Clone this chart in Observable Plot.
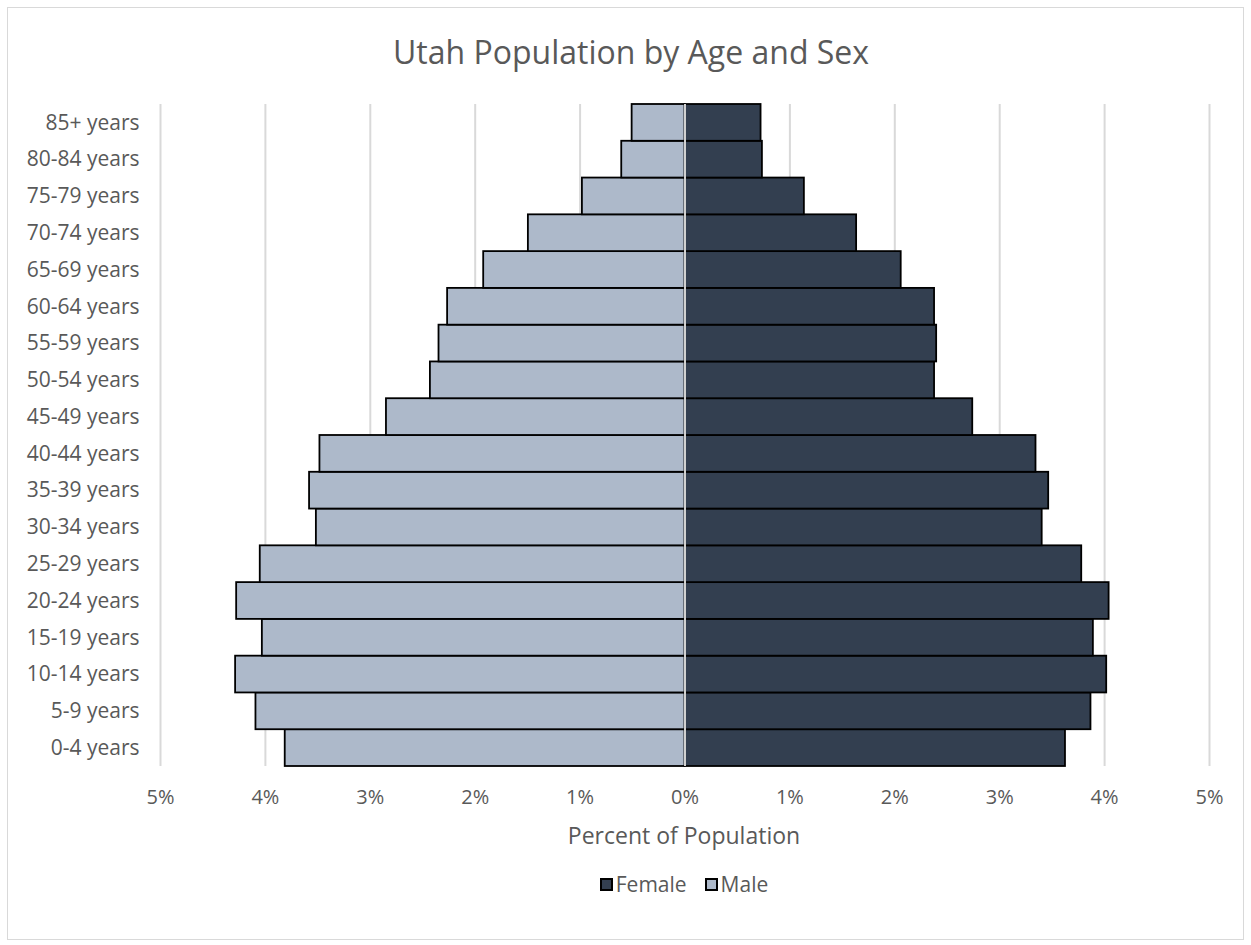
<!DOCTYPE html>
<html>
<head>
<meta charset="utf-8">
<script src="https://cdn.jsdelivr.net/npm/d3@7"></script>
<script src="https://cdn.jsdelivr.net/npm/@observablehq/plot@0.6"></script>
<style>
  html, body { margin: 0; padding: 0; background: #fff; }
  #wrap { position: relative; width: 1251px; height: 945px; font-family: "Open Sans", "Noto Sans", sans-serif; color: #595959; }
  #frame { position: absolute; left: 7px; top: 7px; width: 1235px; height: 931px; border: 1px solid #d9d9d9; }
  #title { position: absolute; left: 0; width: 1262px; top: 30px; text-align: center; font-size: 32px; line-height: 43px; color: #595959; }
  #chart { position: absolute; left: 0; top: 0; }
  #xlabel { position: absolute; left: 0; width: 1368px; top: 820px; text-align: center; font-size: 23px; line-height: 31px; }
  #legend { position: absolute; left: 0; width: 1368px; top: 870px; text-align: center; font-size: 21px; line-height: 29px; }
  .sw { display: inline-block; width: 9px; height: 9px; border: 2px solid #000; vertical-align: 1px; margin-right: 3px; }
  .item { margin: 0 9px; }
</style>
</head>
<body>
<div id="wrap">
  <div id="frame"></div>
  <div id="title">Utah Population by Age and Sex</div>
  <div id="chart"></div>
  <div id="xlabel">Percent of Population</div>
  <div id="legend"></div>
</div>
<script>
const ageGroups = ["0-4 years","5-9 years","10-14 years","15-19 years","20-24 years","25-29 years","30-34 years","35-39 years","40-44 years","45-49 years","50-54 years","55-59 years","60-64 years","65-69 years","70-74 years","75-79 years","80-84 years","85+ years"];
const femalePct = [3.627, 3.870, 4.020, 3.893, 4.043, 3.782, 3.405, 3.467, 3.346, 2.743, 2.379, 2.399, 2.379, 2.061, 1.636, 1.138, 0.738, 0.725];
const malePct   = [3.811, 4.090, 4.284, 4.029, 4.274, 4.049, 3.514, 3.579, 3.480, 2.846, 2.427, 2.345, 2.263, 1.919, 1.493, 0.978, 0.603, 0.504];
const xTicks = [-5,-4,-3,-2,-1,0,1,2,3,4,5];
const seriesNames = ["Female","Male"];
const seriesColors = ["#333f50","#adb9ca"];

const rows = [];
ageGroups.forEach((a, i) => {
  rows.push({age: a, sex: "Female", value: femalePct[i]});
  rows.push({age: a, sex: "Male", value: -malePct[i]});
});

const chart = Plot.plot({
  width: 1251,
  height: 820,
  marginLeft: 160,
  marginRight: 42,
  marginTop: 104,
  marginBottom: 54,
  style: {fontFamily: '"Open Sans", "Noto Sans", sans-serif', fontSize: "20px", color: "#595959", background: "transparent"},
  x: {domain: [-5, 5], label: null},
  y: {domain: ageGroups.slice().reverse(), padding: 0, round: false, label: null},
  color: {domain: seriesNames, range: seriesColors},
  marks: [
    Plot.ruleX(xTicks.filter(d => d !== 0), {stroke: "#d9d9d9", strokeWidth: 2}),
    Plot.barX(rows, {y: "age", x1: 0, x2: "value", fill: "sex", stroke: "#000", strokeWidth: 1.8}),
    Plot.ruleX([0], {stroke: "#d0d0d0", strokeWidth: 2}),
    Plot.axisX({ticks: xTicks, tickFormat: d => Math.abs(d) + "%", tickSize: 0, tickPadding: 23, fontSize: 20, label: null}),
    Plot.axisY({tickSize: 0, tickPadding: 21, fontSize: 21, label: null})
  ]
});
document.getElementById("chart").appendChild(chart);

const legend = document.getElementById("legend");
seriesNames.forEach((n, i) => {
  const s = document.createElement("span");
  s.className = "item";
  s.innerHTML = `<span class="sw" style="background:${seriesColors[i]}"></span>${n}`;
  legend.appendChild(s);
});
</script>
</body>
</html>
